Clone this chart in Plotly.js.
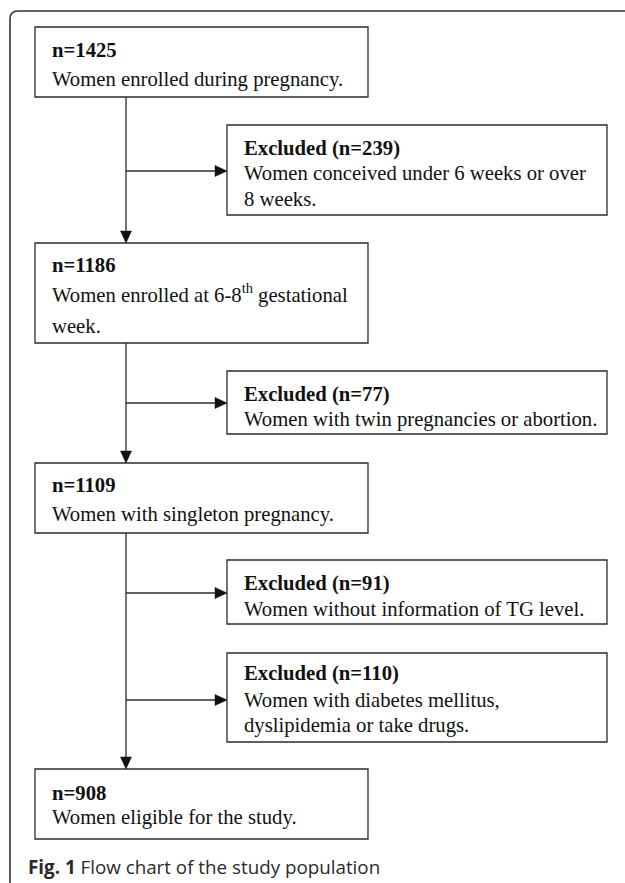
<!DOCTYPE html>
<html>
<head>
<meta charset="utf-8">
<script src="https://cdn.plot.ly/plotly-3.0.1.min.js"></script>
<style>html,body{margin:0;padding:0;background:#fff;}#chart{width:625px;height:883px;}</style>
</head>
<body>
<div id="chart"></div>
<script>
// ---- data ----
const mainCounts = [1425, 1186, 1109, 908];
const mainLines = [
  ["Women enrolled during pregnancy."],
  ["Women enrolled at 6-8<sup>th</sup> gestational", "week."],
  ["Women with singleton pregnancy."],
  ["Women eligible for the study."]
];
const excludedCounts = [239, 77, 91, 110];
const excludedLines = [
  ["Women conceived under 6 weeks or over", "8 weeks."],
  ["Women with twin pregnancies or abortion."],
  ["Women without information of TG level."],
  ["Women with diabetes mellitus,", "dyslipidemia or take drugs."]
];
const captionBold = "Fig. 1";
const captionText = "Flow chart of the study population";

// ---- geometry (layout only) ----
const MAIN_X = [35, 368];
const mainBoxY = [[27, 97], [243, 343], [463, 533], [769, 839]];
const mainLineY = [[50, 79], [265, 293, 326], [485, 514], [793, 817]];
const EXC_X = [227, 607];
const excBoxY = [[125, 215], [371, 434], [560, 624], [653, 742]];
const excLineY = [[148, 173, 199], [394, 419], [583, 609], [673, 700, 725]];
const SPINE_X = 126;
const arrowY = [171, 403, 593, 700];
const TEXT_PAD = 15;

const serif = "Liberation Serif, Times New Roman, serif";
const FS = 20.7;
const lineCol = "#2b2b2b";
const textCol = "#111111";

const shapes = [];
const annotations = [];

// outer frame (rounded top-left corner)
shapes.push({type: "path", xref: "x", yref: "y",
  path: "M 10 883 L 10 19 Q 10 11 18 11 L 626 11",
  line: {color: "#333", width: 1.6}});

function box(x0, x1, y0, y1) {
  shapes.push({type: "rect", xref: "x", yref: "y", x0, x1, y0, y1,
    line: {color: lineCol, width: 1.3}, fillcolor: "rgba(0,0,0,0)"});
}
function line(x0, y0, x1, y1) {
  shapes.push({type: "line", xref: "x", yref: "y", x0, y0, x1, y1,
    line: {color: lineCol, width: 1.3}});
}
function headDown(x, y) {
  shapes.push({type: "path", xref: "x", yref: "y",
    path: `M ${x} ${y} L ${x - 5.5} ${y - 12} L ${x + 5.5} ${y - 12} Z`,
    fillcolor: "#111", line: {color: "#111", width: 0.5}});
}
function headRight(x, y) {
  shapes.push({type: "path", xref: "x", yref: "y",
    path: `M ${x} ${y} L ${x - 12} ${y - 5.5} L ${x - 12} ${y + 5.5} Z`,
    fillcolor: "#111", line: {color: "#111", width: 0.5}});
}
function txt(x, y, t, bold) {
  annotations.push({xref: "x", yref: "y", x, y, text: bold ? "<b>" + t + "</b>" : t,
    showarrow: false, xanchor: "left", yanchor: "middle", align: "left",
    font: {family: serif, size: FS, color: textCol}});
}

// main boxes
mainCounts.forEach((n, i) => {
  const [y0, y1] = mainBoxY[i];
  box(MAIN_X[0], MAIN_X[1], y0, y1);
  const ys = mainLineY[i];
  txt(MAIN_X[0] + TEXT_PAD, ys[0], "n=" + n, true);
  mainLines[i].forEach((l, j) => txt(MAIN_X[0] + TEXT_PAD, ys[j + 1], l, false));
});

// excluded boxes
excludedCounts.forEach((n, i) => {
  const [y0, y1] = excBoxY[i];
  box(EXC_X[0], EXC_X[1], y0, y1);
  const ys = excLineY[i];
  txt(EXC_X[0] + 15, ys[0], "Excluded (n=" + n + ")", true);
  excludedLines[i].forEach((l, j) => txt(EXC_X[0] + 15, ys[j + 1], l, false));
  line(SPINE_X, arrowY[i], EXC_X[0] - 11, arrowY[i]);
  headRight(EXC_X[0], arrowY[i]);
});

// vertical connectors
for (let i = 0; i < mainBoxY.length - 1; i++) {
  const ya = mainBoxY[i][1], yb = mainBoxY[i + 1][0];
  line(SPINE_X, ya, SPINE_X, yb - 11);
  headDown(SPINE_X, yb);
}

// caption
annotations.push({xref: "x", yref: "y", x: 26, y: 867,
  text: "<b>" + captionBold + "</b> " + captionText,
  showarrow: false, xanchor: "left", yanchor: "middle",
  font: {family: "Open Sans, Noto Sans, sans-serif", size: 18.8, color: "#2a2a2a"}});

const layout = {
  width: 625, height: 883,
  margin: {l: 0, r: 0, t: 0, b: 0},
  paper_bgcolor: "#fff", plot_bgcolor: "#fff",
  xaxis: {range: [0, 625], visible: false, fixedrange: true},
  yaxis: {range: [883, 0], visible: false, fixedrange: true},
  shapes, annotations, showlegend: false
};
Plotly.newPlot("chart", [], layout, {staticPlot: true, displayModeBar: false});
</script>
</body>
</html>
